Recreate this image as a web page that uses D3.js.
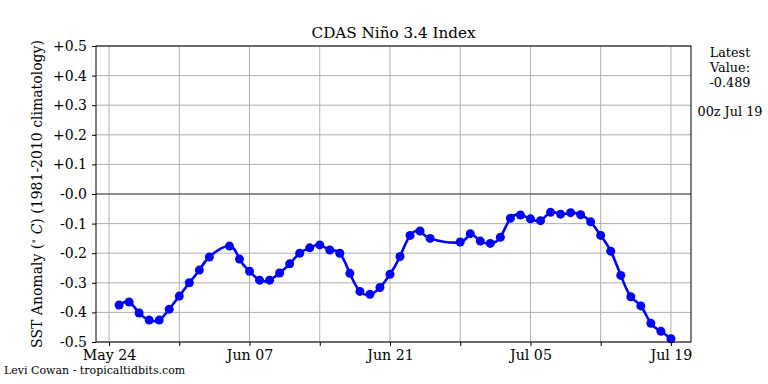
<!DOCTYPE html>
<html>
<head>
<meta charset="utf-8">
<script src="https://cdn.jsdelivr.net/npm/d3@7"></script>
<style>
  body { margin: 0; background: #fff; }
  text { font-family: "DejaVu Serif", serif; fill: #000; }
</style>
</head>
<body>
<svg id="chart" width="768" height="384"></svg>
<script>
// ===== DATOS =====
const fechas = [
  "2024-05-25", "2024-05-26", "2024-05-27", "2024-05-28", "2024-05-29", "2024-05-30", "2024-05-31",
  "2024-06-01", "2024-06-02", "2024-06-03", "2024-06-05", "2024-06-06", "2024-06-07", "2024-06-08",
  "2024-06-09", "2024-06-10", "2024-06-11", "2024-06-12", "2024-06-13", "2024-06-14", "2024-06-15",
  "2024-06-16", "2024-06-17", "2024-06-18", "2024-06-19", "2024-06-20", "2024-06-21", "2024-06-22",
  "2024-06-23", "2024-06-24", "2024-06-25", "2024-06-28", "2024-06-29", "2024-06-30", "2024-07-01",
  "2024-07-02", "2024-07-03", "2024-07-04", "2024-07-05", "2024-07-06", "2024-07-07", "2024-07-08",
  "2024-07-09", "2024-07-10", "2024-07-11", "2024-07-12", "2024-07-13", "2024-07-14", "2024-07-15",
  "2024-07-16", "2024-07-17", "2024-07-18", "2024-07-19"
];
const anomalias = [
  -0.375, -0.365, -0.402, -0.426, -0.426, -0.389, -0.345,
  -0.300, -0.257, -0.213, -0.176, -0.220, -0.261, -0.291,
  -0.291, -0.267, -0.236, -0.200, -0.182, -0.172, -0.189,
  -0.200, -0.268, -0.329, -0.339, -0.316, -0.271, -0.211,
  -0.140, -0.125, -0.150, -0.162, -0.134, -0.159, -0.167,
  -0.146, -0.082, -0.071, -0.084, -0.090, -0.062, -0.068,
  -0.063, -0.070, -0.094, -0.140, -0.193, -0.275, -0.347,
  -0.378, -0.437, -0.464, -0.489
];
const yTicks = [0.5, 0.4, 0.3, 0.2, 0.1, 0.0, -0.1, -0.2, -0.3, -0.4, -0.5];
const yTickLabels = ["+0.5", "+0.4", "+0.3", "+0.2", "+0.1", "-0.0", "-0.1", "-0.2", "-0.3", "-0.4", "-0.5"];
const xTickFechas = ["2024-05-24", "2024-05-31", "2024-06-07", "2024-06-14", "2024-06-21", "2024-06-28", "2024-07-05", "2024-07-12", "2024-07-19"];
const xTickLabels = ["May 24", "", "Jun 07", "", "Jun 21", "", "Jul 05", "", "Jul 19"];
const ultimoValor = "-0.489";
const ultimaFecha = "00z Jul 19";

// ===== ESCALAS =====
const svg = d3.select("#chart");
const margen = { left: 96, right: 691, top: 46, bottom: 342 };
const DIA = 864e5;
const parse = d3.utcParse("%Y-%m-%d");

const x = d3.scaleUtc()
  .domain([new Date(+parse("2024-05-24") - 1.3 * DIA), new Date(+parse("2024-07-19") + 2 * DIA)])
  .range([margen.left, margen.right]);
const y = d3.scaleLinear().domain([-0.5, 0.5]).range([margen.bottom, margen.top]);

const puntos = fechas.map((f, i) => ({ fecha: parse(f), valor: anomalias[i] }));
const xTicks = xTickFechas.map(parse);

// ===== REJILLA =====
const grid = svg.append("g");
grid.selectAll("line.v").data(xTicks).enter().append("line")
  .attr("x1", d => x(d)).attr("x2", d => x(d))
  .attr("y1", margen.top).attr("y2", margen.bottom)
  .attr("stroke", "#b0b0b0").attr("stroke-width", 1);
grid.selectAll("line.h").data(yTicks).enter().append("line")
  .attr("x1", margen.left).attr("x2", margen.right)
  .attr("y1", d => y(d)).attr("y2", d => y(d))
  .attr("stroke", "#b0b0b0").attr("stroke-width", 1);

// linea del cero
svg.append("line")
  .attr("x1", margen.left).attr("x2", margen.right)
  .attr("y1", y(0)).attr("y2", y(0))
  .attr("stroke", "#444").attr("stroke-width", 1.2);

// ===== SERIE =====
const linea = d3.line()
  .x(d => x(d.fecha))
  .y(d => y(d.valor))
  .curve(d3.curveNatural);

svg.append("path")
  .datum(puntos)
  .attr("d", linea)
  .attr("fill", "none")
  .attr("stroke", "#0000ff")
  .attr("stroke-width", 2.6);

svg.selectAll("circle")
  .data(puntos)
  .enter()
  .append("circle")
  .attr("cx", d => x(d.fecha))
  .attr("cy", d => y(d.valor))
  .attr("r", 4.5)
  .attr("fill", "#0000ff");

// ===== EJES =====
const ejeX = d3.axisBottom(x)
  .tickValues(xTicks)
  .tickSize(4)
  .tickPadding(4)
  .tickFormat((d, i) => xTickLabels[i]);
const gx = svg.append("g")
  .attr("transform", `translate(0,${margen.bottom})`)
  .call(ejeX);
gx.select(".domain").remove();
gx.selectAll("text").style("font-size", "14.2px").style("font-family", "DejaVu Serif");

const ejeY = d3.axisLeft(y)
  .tickValues(yTicks)
  .tickSize(4)
  .tickPadding(5)
  .tickFormat((d, i) => yTickLabels[i]);
const gy = svg.append("g")
  .attr("transform", `translate(${margen.left},0)`)
  .call(ejeY);
gy.select(".domain").remove();
gy.selectAll("text").style("font-size", "14px").style("font-family", "DejaVu Serif");
svg.selectAll(".tick line").attr("stroke", "#000");

// marco
svg.append("rect")
  .attr("x", margen.left).attr("y", margen.top)
  .attr("width", margen.right - margen.left)
  .attr("height", margen.bottom - margen.top)
  .attr("fill", "none").attr("stroke", "#000").attr("stroke-width", 1);

// ===== TEXTOS =====
svg.append("text")
  .attr("x", (margen.left + margen.right) / 2)
  .attr("y", 38)
  .attr("text-anchor", "middle")
  .style("font-size", "15.2px")
  .text("CDAS Niño 3.4 Index");

const etiquetaY = svg.append("text")
  .attr("transform", `translate(42,${(margen.top + margen.bottom) / 2}) rotate(-90)`)
  .attr("text-anchor", "middle")
  .style("font-size", "14px");
etiquetaY.append("tspan").text("SST Anomaly (");
etiquetaY.append("tspan").attr("dy", -5).style("font-size", "10px").text("∘");
etiquetaY.append("tspan").attr("dy", 5).style("font-style", "italic").text(" C");
etiquetaY.append("tspan").text(") (1981-2010 climatology)");

const lateral = ["Latest", "Value:", ultimoValor];
svg.selectAll("text.lateral")
  .data(lateral)
  .enter()
  .append("text")
  .attr("x", 730)
  .attr("y", (d, i) => 57 + i * 14.8)
  .attr("text-anchor", "middle")
  .style("font-size", "12.8px")
  .text(d => d);

svg.append("text")
  .attr("x", 730)
  .attr("y", 116)
  .attr("text-anchor", "middle")
  .style("font-size", "12.8px")
  .text(ultimaFecha);

svg.append("text")
  .attr("x", 4)
  .attr("y", 374)
  .style("font-size", "11px")
  .text("Levi Cowan - tropicaltidbits.com");
</script>
</body>
</html>
